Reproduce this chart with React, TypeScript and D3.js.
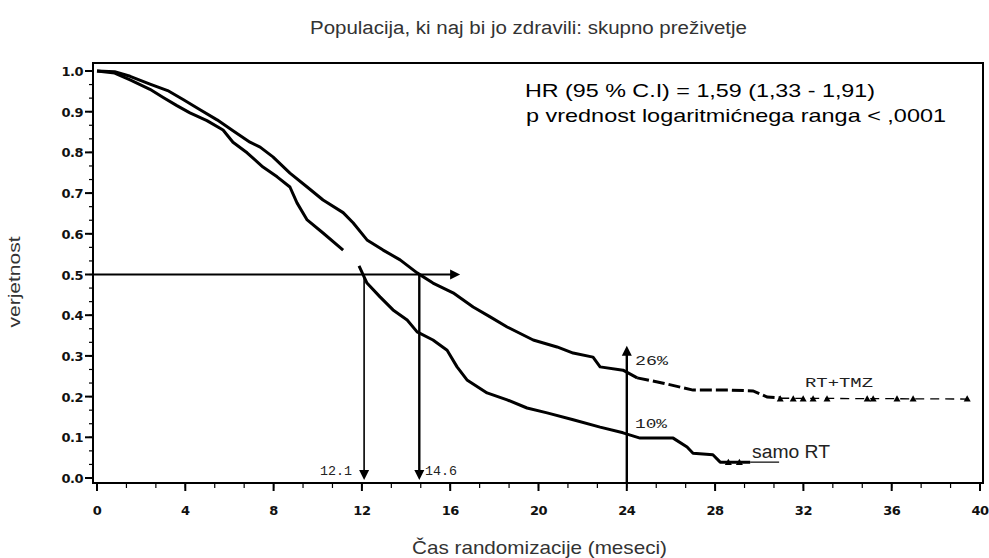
import * as d3 from "d3";

// RT + TMZ (months, survival probability)
const tmzMonths = [0, 0.8, 1.5, 2.4, 3.2, 3.9, 4.67, 5.44, 6.16, 6.93, 7.39, 7.97, 8.74, 9.52, 10.24, 11.15, 11.6, 12.23, 12.96, 13.73, 14.5, 15.22, 16.13, 17.04, 17.81, 18.58, 19.76, 20.84, 21.57, 22.47, 22.79, 23.83, 24.47];
const tmzSurv = [1.0, 0.998, 0.987, 0.968, 0.952, 0.93, 0.905, 0.88, 0.853, 0.825, 0.813, 0.789, 0.749, 0.715, 0.683, 0.652, 0.627, 0.585, 0.56, 0.536, 0.504, 0.479, 0.455, 0.42, 0.396, 0.371, 0.339, 0.322, 0.307, 0.297, 0.273, 0.265, 0.246];
// late part of RT + TMZ, drawn with censor marks
const tmzLateMonths = [24.47, 25.65, 27.0, 28.68, 29.72, 30.36, 30.95];
const tmzLateSurv = [0.246, 0.233, 0.216, 0.216, 0.214, 0.199, 0.197];
const tmzTailMonths = [30.95, 39.42];
const tmzTailSurv = [0.196, 0.194];
const tmzCensored = [30.95, 31.54, 31.99, 32.44, 33.07, 34.89, 35.16, 36.24, 36.97, 39.42];

// samo RT, drawn in two pieces (gap before the 12.1 month median)
const rtMonthsA = [0, 0.8, 1.5, 2.4, 3.0, 3.62, 4.21, 4.98, 5.71, 6.16, 6.8, 7.52, 8.16, 8.74, 9.06, 9.52, 10.24, 11.15];
const rtSurvA = [1.0, 0.995, 0.978, 0.955, 0.935, 0.915, 0.897, 0.878, 0.855, 0.825, 0.799, 0.764, 0.74, 0.715, 0.676, 0.634, 0.602, 0.56];
const rtMonthsB = [11.87, 12.23, 12.82, 13.41, 14.05, 14.5, 15.22, 15.86, 16.31, 16.76, 17.67, 18.58, 19.48, 20.39, 21.57, 22.79, 23.83, 24.6, 26.1, 26.73, 27.0, 27.9, 28.23, 29.59];
const rtSurvB = [0.521, 0.479, 0.445, 0.413, 0.388, 0.359, 0.339, 0.314, 0.273, 0.241, 0.209, 0.192, 0.172, 0.16, 0.143, 0.125, 0.111, 0.098, 0.098, 0.076, 0.061, 0.057, 0.039, 0.039];
const rtCensored = [28.6, 29.1];

const xTicks = [0, 4, 8, 12, 16, 20, 24, 28, 32, 36, 40];
const yTicks = [0, 0.1, 0.2, 0.3, 0.4, 0.5, 0.6, 0.7, 0.8, 0.9, 1.0];

const medians = [12.1, 14.6];
const medianLabels = ["12.1", "14.6"];
const at24 = { month: 24, tmz: "26%", rt: "10%" };

const W = 989;
const H = 558;
const frame = { left: 93, top: 63, right: 983, bottom: 483 };

const x = d3.scaleLinear().domain([0, 40]).range([97, 980]);
const y = d3.scaleLinear().domain([0, 1]).range([478, 71]);

const line = d3
  .line<[number, number]>()
  .x((d) => x(d[0]))
  .y((d) => y(d[1]));

const zip = (a: number[], b: number[]) => a.map((m, i) => [m, b[i]] as [number, number]);

const tri = (cx: number, cy: number, s = 3.5) =>
  `M${cx},${cy - s}L${cx + s},${cy + s * 0.8}L${cx - s},${cy + s * 0.8}Z`;

const arrowHead = (tx: number, ty: number, dir: "up" | "down" | "right") => {
  const s = 5;
  if (dir === "right") return `M${tx},${ty}L${tx - 10},${ty - s}L${tx - 10},${ty + s}Z`;
  if (dir === "down") return `M${tx},${ty}L${tx - s},${ty - 10}L${tx + s},${ty - 10}Z`;
  return `M${tx},${ty}L${tx - s},${ty + 10}L${tx + s},${ty + 10}Z`;
};

export default function App() {
  const minorX = d3.range(0, 40.01, 4 / 3);
  const minorY = d3.range(0, 1.001, 0.1 / 3);
  const medY = y(0.5);
  const font = "Arial, 'Liberation Sans', sans-serif";
  const tickFont = "'DejaVu Sans', sans-serif";
  const typeFont = "'Liberation Mono', monospace";

  return (
    <svg
      width={W}
      height={H}
      style={{ position: "absolute", left: 0, top: 0, background: "#fff" }}
      fontFamily={font}
    >
      <text x={310} y={34} fontSize={18} fill="#333" textLength={437} lengthAdjust="spacingAndGlyphs">
        Populacija, ki naj bi jo zdravili: skupno preživetje
      </text>

      {/* frame */}
      <rect
        x={frame.left}
        y={frame.top}
        width={frame.right - frame.left}
        height={frame.bottom - frame.top}
        fill="none"
        stroke="#000"
        strokeWidth={2}
      />

      {/* y axis */}
      {minorY.map((v, i) => (
        <line key={"my" + i} x1={89} x2={frame.left} y1={y(v)} y2={y(v)} stroke="#000" strokeWidth={1.2} />
      ))}
      {yTicks.map((v) => (
        <g key={"y" + v}>
          <line x1={85} x2={frame.left} y1={y(v)} y2={y(v)} stroke="#000" strokeWidth={2} />
          <text x={83} y={y(v) + 5} textAnchor="end" fontSize={13} fontWeight="bold" fontFamily={tickFont} fill="#111" letterSpacing={-0.5}>
            {v.toFixed(1)}
          </text>
        </g>
      ))}
      <text
        transform={`translate(20,282) rotate(-90)`}
        textAnchor="middle"
        fontSize={17}
        fill="#333"
        textLength={91}
        lengthAdjust="spacingAndGlyphs"
      >
        verjetnost
      </text>

      {/* x axis */}
      {minorX.map((m, i) => (
        <line key={"mx" + i} x1={x(m)} x2={x(m)} y1={frame.bottom} y2={frame.bottom + 5} stroke="#000" strokeWidth={1.2} />
      ))}
      {xTicks.map((m) => (
        <g key={"x" + m}>
          <line x1={x(m)} x2={x(m)} y1={frame.bottom} y2={frame.bottom + 8} stroke="#000" strokeWidth={2} />
          <text x={x(m)} y={515} textAnchor="middle" fontSize={13} fontWeight="bold" fontFamily={tickFont} fill="#111" letterSpacing={-0.5}>
            {m}
          </text>
        </g>
      ))}
      <text x={412} y={554} fontSize={19} fill="#333" textLength={255} lengthAdjust="spacingAndGlyphs">
        Čas randomizacije (meseci)
      </text>

      {/* curves */}
      <path d={line(zip(tmzMonths, tmzSurv))!} fill="none" stroke="#000" strokeWidth={3} strokeLinejoin="round" />
      <path d={line(zip(tmzLateMonths, tmzLateSurv))!} fill="none" stroke="#000" strokeWidth={3} strokeDasharray="12,4" />
      <path d={line(zip(tmzTailMonths, tmzTailSurv))!} fill="none" stroke="#000" strokeWidth={1.3} strokeDasharray="9,6" />
      {tmzCensored.map((m, i) => (
        <path key={"tc" + i} d={tri(x(m), y(0.195))} fill="#000" />
      ))}
      <path d={line(zip(rtMonthsA, rtSurvA))!} fill="none" stroke="#000" strokeWidth={3} strokeLinejoin="round" />
      <path d={line(zip(rtMonthsB, rtSurvB))!} fill="none" stroke="#000" strokeWidth={3} strokeLinejoin="round" />
      {rtCensored.map((m, i) => (
        <path key={"rc" + i} d={tri(x(m), y(0.039))} fill="#000" />
      ))}
      <line x1={x(29.59)} x2={x(30.9)} y1={y(0.039)} y2={y(0.039)} stroke="#000" strokeWidth={1.2} />

      {/* median arrows */}
      <line x1={frame.left} x2={x(16.25)} y1={medY} y2={medY} stroke="#000" strokeWidth={2} />
      <path d={arrowHead(x(16.45), medY, "right")} fill="#000" />
      {medians.map((m, i) => (
        <g key={"med" + i}>
          <line x1={x(m)} x2={x(m)} y1={medY} y2={y(0) - 6} stroke="#000" strokeWidth={i === 0 ? 1.6 : 2.4} />
          <path d={arrowHead(x(m), y(0) + 2, "down")} fill="#000" />
        </g>
      ))}
      <text x={320} y={475} fontSize={13} fontFamily={typeFont} fill="#222" textLength={32} lengthAdjust="spacingAndGlyphs">
        {medianLabels[0]}
      </text>
      <text x={425} y={475} fontSize={13} fontFamily={typeFont} fill="#222" textLength={32} lengthAdjust="spacingAndGlyphs">
        {medianLabels[1]}
      </text>

      {/* 24 month arrow */}
      <line x1={x(at24.month)} x2={x(at24.month)} y1={y(0) + 4} y2={y(0.31)} stroke="#000" strokeWidth={2.4} />
      <path d={arrowHead(x(at24.month), y(0.325), "up")} fill="#000" />
      <text x={635} y={365} fontSize={13} fontFamily={typeFont} fill="#222" textLength={33} lengthAdjust="spacingAndGlyphs">
        {at24.tmz}
      </text>
      <text x={635} y={428} fontSize={13} fontFamily={typeFont} fill="#222" textLength={32} lengthAdjust="spacingAndGlyphs">
        {at24.rt}
      </text>

      {/* series labels */}
      <text x={805} y={387} fontSize={13} fontFamily={typeFont} fill="#222" textLength={68} lengthAdjust="spacingAndGlyphs">
        RT+TMZ
      </text>
      <text x={752} y={458} fontSize={18} fill="#222" textLength={78} lengthAdjust="spacingAndGlyphs">
        samo RT
      </text>

      {/* statistics */}
      <text x={525} y={97} fontSize={18.5} fill="#000" textLength={350} lengthAdjust="spacingAndGlyphs">
        HR (95 % C.I) = 1,59 (1,33 - 1,91)
      </text>
      <text x={526} y={122} fontSize={18.5} fill="#000" textLength={420} lengthAdjust="spacingAndGlyphs">
        p vrednost logaritmićnega ranga &lt; ,0001
      </text>
    </svg>
  );
}
